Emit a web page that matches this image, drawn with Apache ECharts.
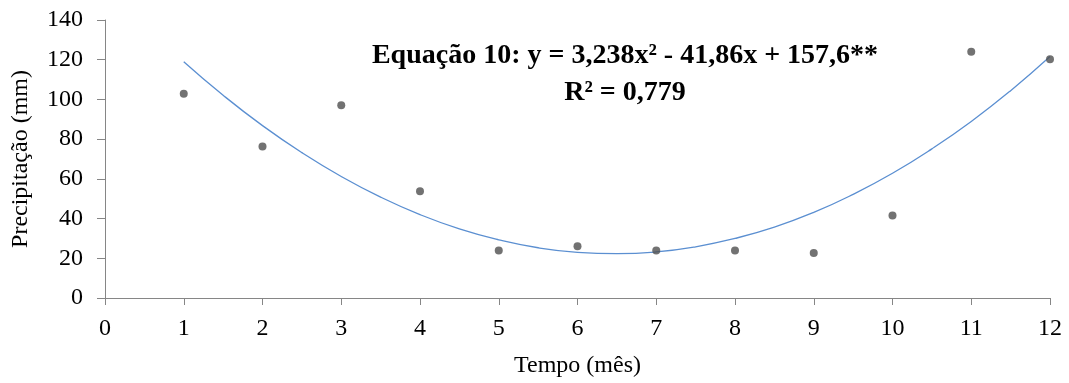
<!DOCTYPE html>
<html>
<head>
<meta charset="utf-8">
<script src="https://cdn.jsdelivr.net/npm/echarts@6/dist/echarts.min.js"></script>
<style>html,body{margin:0;padding:0;background:#fff}#c{width:1069px;height:383px}</style>
</head>
<body>
<div id="c"></div>
<script>
// Observed monthly precipitation (mm)
const months = [1, 2, 3, 4, 5, 6, 7, 8, 9, 10, 11, 12];
const precip = [102.8, 76.3, 97.1, 53.8, 23.9, 26.0, 23.9, 23.9, 22.6, 41.5, 124.0, 120.2];
// Trend line points
const trendX = [1, 1.5, 2, 2.5, 3, 3.5, 4, 4.5, 5, 5.5, 6, 6.5, 7, 7.5, 8, 8.5, 9, 9.5, 10, 10.5, 11, 11.5, 12];
const trendY = [119.0, 102.1, 86.8, 73.2, 61.2, 50.8, 42.0, 34.8, 29.3, 25.3, 23.0, 22.3, 23.2, 25.8, 30.0, 35.7, 43.1, 52.2, 62.8, 75.1, 88.9, 104.4, 121.6];
const xTicks = { min: 0, max: 12, interval: 1 };
const yTicks = { min: 0, max: 140, interval: 20 };
const eqLine1 = 'Equação 10: y = 3,238x² - 41,86x + 157,6**';
const eqLine2 = 'R² = 0,779';

const font = 'Liberation Serif';
const axisColor = '#868686';
const chart = echarts.init(document.getElementById('c'));
chart.setOption({
  animation: false,
  backgroundColor: '#fff',
  grid: { left: 105, right: 19, top: 20, bottom: 85, containLabel: false },
  title: {
    text: eqLine1 + '\n' + eqLine2,
    left: 620, top: 32, textAlign: 'center',
    textStyle: { fontFamily: font, fontWeight: 'bold', fontSize: 28, color: '#000', lineHeight: 37, align: 'center' }
  },
  xAxis: {
    type: 'value', min: xTicks.min, max: xTicks.max, interval: xTicks.interval,
    name: 'Tempo (mês)', nameLocation: 'middle', nameGap: 56,
    nameTextStyle: { fontFamily: font, fontSize: 24, color: '#000' },
    axisLine: { show: true, lineStyle: { color: axisColor, width: 1 } },
    axisTick: { show: true, length: 7, lineStyle: { color: axisColor } },
    axisLabel: { fontFamily: font, fontSize: 24, color: '#000', margin: 19 },
    splitLine: { show: false }
  },
  yAxis: {
    type: 'value', min: yTicks.min, max: yTicks.max, interval: yTicks.interval,
    name: 'Precipitação (mm)', nameLocation: 'middle', nameGap: 72,
    nameTextStyle: { fontFamily: font, fontSize: 24, color: '#000' },
    axisLine: { show: true, lineStyle: { color: axisColor, width: 1 } },
    axisTick: { show: true, length: 8, lineStyle: { color: axisColor } },
    axisLabel: { fontFamily: font, fontSize: 24, color: '#000', margin: 22 },
    splitLine: { show: false }
  },
  series: [
    {
      type: 'line', smooth: true, symbol: 'none',
      data: trendX.map((x, i) => [x, trendY[i]]),
      lineStyle: { color: '#5b8fd1', width: 1.3 }, z: 2
    },
    {
      type: 'scatter', symbol: 'circle', symbolSize: 8,
      data: months.map((m, i) => [m, precip[i]]),
      itemStyle: { color: '#4f4f4f' }, z: 3
    }
  ]
});
</script>
</body>
</html>
